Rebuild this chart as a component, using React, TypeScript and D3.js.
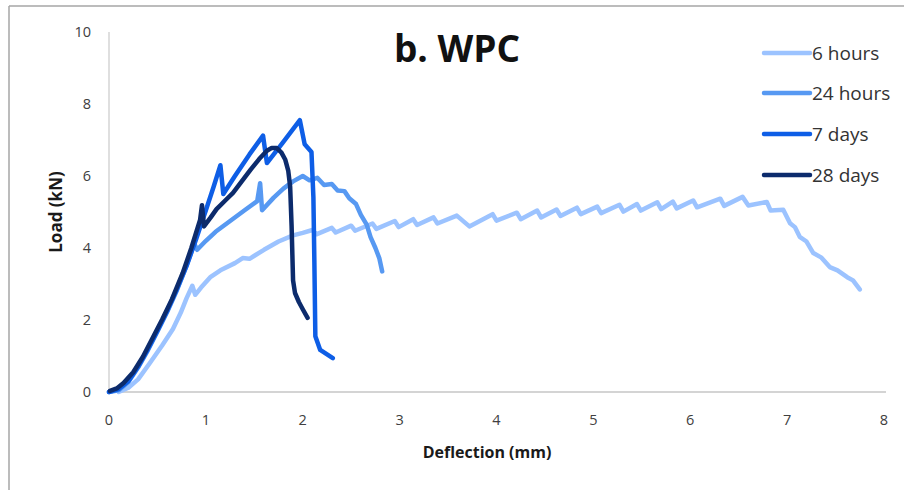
import React from "react";
import * as d3 from "d3";

const seriesNames = ["6 hours", "24 hours", "7 days", "28 days"];
const seriesColors = ["#9cc3ff", "#5799f2", "#0e5ee6", "#0c2b6c"];

const hours6: [number, number][] = [
  [0.1, 0], [0.2, 0.12], [0.3, 0.35], [0.42, 0.8], [0.55, 1.3], [0.66, 1.75], [0.74, 2.2], [0.8, 2.6],
  [0.86, 2.95], [0.89, 2.7], [0.95, 2.9], [1.05, 3.2], [1.15, 3.38], [1.3, 3.58], [1.38, 3.72], [1.45, 3.7],
  [1.6, 3.95], [1.75, 4.18], [1.9, 4.35], [2.0, 4.42],
  [2.1, 4.5], [2.14, 4.38], [2.3, 4.56], [2.34, 4.43], [2.5, 4.62], [2.54, 4.48], [2.72, 4.68], [2.76, 4.53],
  [2.95, 4.75], [2.99, 4.58], [3.14, 4.8], [3.18, 4.64], [3.35, 4.85], [3.39, 4.68], [3.59, 4.9],
  [3.72, 4.6], [3.96, 4.94], [4.0, 4.76], [4.21, 4.98], [4.25, 4.8], [4.42, 5.04], [4.46, 4.85],
  [4.62, 5.07], [4.66, 4.89], [4.83, 5.12], [4.87, 4.94], [5.04, 5.15], [5.08, 4.97], [5.27, 5.2],
  [5.31, 5.01], [5.45, 5.22], [5.49, 5.04], [5.66, 5.27], [5.7, 5.08], [5.82, 5.29], [5.86, 5.1],
  [6.03, 5.32], [6.07, 5.13], [6.31, 5.37], [6.35, 5.17], [6.54, 5.42], [6.6, 5.18], [6.79, 5.28],
  [6.83, 5.04], [6.96, 5.06], [7.03, 4.69], [7.08, 4.58], [7.13, 4.31], [7.2, 4.18], [7.27, 3.86],
  [7.35, 3.74], [7.44, 3.47], [7.52, 3.38], [7.62, 3.19], [7.68, 3.1], [7.75, 2.85],
];

const hours24: [number, number][] = [
  [0, 0], [0.1, 0.05], [0.2, 0.28], [0.3, 0.68], [0.4, 1.15], [0.5, 1.68], [0.6, 2.22], [0.7, 2.82],
  [0.8, 3.5], [0.88, 4.12], [0.91, 3.95], [1.0, 4.2], [1.1, 4.45], [1.25, 4.75], [1.4, 5.05], [1.53, 5.3],
  [1.56, 5.8], [1.58, 5.05], [1.7, 5.4], [1.8, 5.65], [1.9, 5.85], [2.0, 6.0], [2.07, 5.88],
  [2.15, 5.95], [2.22, 5.75], [2.3, 5.78], [2.36, 5.6], [2.43, 5.58], [2.48, 5.38], [2.55, 5.22],
  [2.6, 4.92], [2.66, 4.65], [2.7, 4.3], [2.75, 4.0], [2.79, 3.72], [2.82, 3.35],
];

const days7: [number, number][] = [
  [0, 0], [0.1, 0.08], [0.2, 0.3], [0.3, 0.7], [0.4, 1.18], [0.5, 1.7], [0.6, 2.25], [0.7, 2.85],
  [0.8, 3.5], [0.9, 4.25], [0.95, 4.65], [1.0, 5.05], [1.08, 5.7], [1.15, 6.3], [1.18, 5.5],
  [1.3, 6.0], [1.45, 6.6], [1.59, 7.12], [1.63, 6.36], [1.7, 6.6], [1.8, 6.95], [1.97, 7.55],
  [2.02, 6.88], [2.09, 6.67], [2.11, 5.4], [2.12, 3.6], [2.13, 1.55], [2.18, 1.17], [2.31, 0.94],
];

const days28: [number, number][] = [
  [0.01, 0.03], [0.08, 0.1], [0.15, 0.25], [0.25, 0.55], [0.35, 0.98], [0.45, 1.5], [0.55, 2.02],
  [0.65, 2.58], [0.76, 3.3], [0.85, 4.0], [0.94, 4.78], [0.96, 5.19], [0.98, 4.6], [1.05, 4.85],
  [1.11, 5.08], [1.2, 5.32], [1.28, 5.53], [1.37, 5.85], [1.46, 6.17], [1.55, 6.47], [1.63, 6.7],
  [1.68, 6.78], [1.73, 6.78], [1.78, 6.65], [1.82, 6.45], [1.85, 6.15], [1.87, 5.7], [1.885, 4.6],
  [1.9, 3.1], [1.92, 2.75], [1.96, 2.5], [2.0, 2.3], [2.05, 2.06],
];

const allSeries = [hours6, hours24, days7, days28];
const xTicks = [0, 1, 2, 3, 4, 5, 6, 7, 8];
const yTicks = [0, 2, 4, 6, 8, 10];

export default function App() {
  const x = d3.scaleLinear().domain([0, 8]).range([109, 884]);
  const y = d3.scaleLinear().domain([0, 10]).range([392, 32]);
  const line = d3
    .line<[number, number]>()
    .x((d) => x(d[0]))
    .y((d) => y(d[1]))
    .curve(d3.curveLinear);
  const font = "'Open Sans', 'Liberation Sans', sans-serif";
  const legendY = [53, 93, 134, 175];

  return (
    <svg
      width={904}
      height={490}
      style={{ position: "absolute", left: 0, top: 0, background: "#fff" }}
      fontFamily={font}
    >
      <rect x={0} y={0} width={904} height={490} fill="#fff" />
      <line x1={9} y1={6} x2={904} y2={6} stroke="#a6a6a6" strokeWidth={1.5} />
      <line x1={9} y1={6} x2={9} y2={490} stroke="#a6a6a6" strokeWidth={1.5} />

      <line x1={x(0)} y1={y(0)} x2={886} y2={y(0)} stroke="#d4d4d4" strokeWidth={2} />
      <line x1={x(0)} y1={y(0)} x2={x(0)} y2={y(10)} stroke="#d4d4d4" strokeWidth={1.5} />

      {yTicks.map((t) => (
        <text key={"y" + t} x={91} y={y(t)} dy="0.35em" textAnchor="end" fontSize={14.5} fill="#404040">
          {t}
        </text>
      ))}
      {xTicks.map((t) => (
        <text key={"x" + t} x={x(t)} y={420} dy="0.35em" textAnchor="middle" fontSize={14.5} fill="#404040">
          {t}
        </text>
      ))}

      <text x={487} y={458} textAnchor="middle" fontSize={16} fontWeight="bold" fill="#1a1a1a">
        Deflection (mm)
      </text>
      <text
        transform="translate(62,212) rotate(-90)"
        textAnchor="middle"
        fontSize={17}
        fontWeight="bold"
        fill="#1a1a1a"
      >
        Load (kN)
      </text>

      <text x={457} y={62} textAnchor="middle" fontSize={37} fontWeight="bold" fill="#111">
        b. WPC
      </text>

      {allSeries.map((s, i) => (
        <path
          key={seriesNames[i]}
          d={line(s) || ""}
          fill="none"
          stroke={seriesColors[i]}
          strokeWidth={4.5}
          strokeLinejoin="round"
          strokeLinecap="round"
        />
      ))}

      {seriesNames.map((n, i) => (
        <g key={"lg" + n}>
          <line
            x1={764}
            x2={810}
            y1={legendY[i]}
            y2={legendY[i]}
            stroke={seriesColors[i]}
            strokeWidth={4.5}
            strokeLinecap="round"
          />
          <text x={812} y={legendY[i]} dy="0.35em" fontSize={19} fill="#333">
            {n}
          </text>
        </g>
      ))}
    </svg>
  );
}
